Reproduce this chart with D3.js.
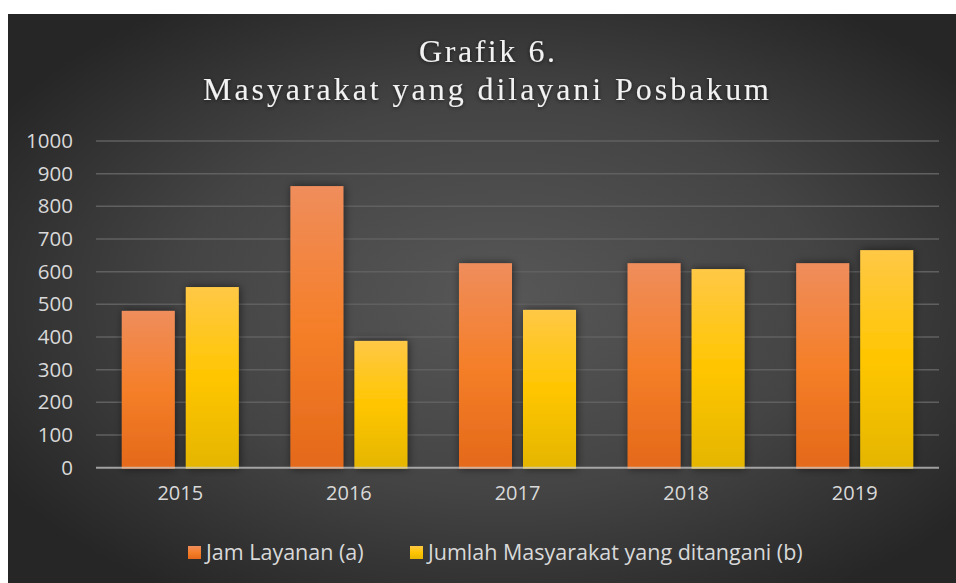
<!DOCTYPE html>
<html>
<head>
<meta charset="utf-8">
<script src="https://cdn.jsdelivr.net/npm/d3@7"></script>
<style>
  html, body { margin: 0; padding: 0; background: #ffffff; }
  svg { display: block; }
</style>
</head>
<body>
<script>
const years = ["2015", "2016", "2017", "2018", "2019"];
const jamLayanan = [480, 862, 626, 626, 626];
const jumlahMasyarakat = [553, 388, 483, 608, 666];
const seriesNames = ["Jam Layanan (a)", "Jumlah Masyarakat yang ditangani (b)"];
const yTicks = [0, 100, 200, 300, 400, 500, 600, 700, 800, 900, 1000];
const titleLines = ["Grafik 6.", "Masyarakat yang dilayani Posbakum"];

const W = 956, H = 583;
const svg = d3.select("body").append("svg").attr("width", W).attr("height", H);
const defs = svg.append("defs");

// background gradient
const bg = defs.append("radialGradient").attr("id", "bgGrad")
  .attr("cx", "52%").attr("cy", "50%").attr("r", "62%");
bg.append("stop").attr("offset", "0%").attr("stop-color", "#575757");
bg.append("stop").attr("offset", "55%").attr("stop-color", "#444444");
bg.append("stop").attr("offset", "100%").attr("stop-color", "#262626");

function barGrad(id, top, mid, bot) {
  const g = defs.append("linearGradient").attr("id", id)
    .attr("x1", 0).attr("y1", 0).attr("x2", 0).attr("y2", 1);
  g.append("stop").attr("offset", "0%").attr("stop-color", top);
  g.append("stop").attr("offset", "50%").attr("stop-color", mid);
  g.append("stop").attr("offset", "100%").attr("stop-color", bot);
}
barGrad("gOrange", "#ef8d5c", "#f57f29", "#e4691a");
barGrad("gYellow", "#ffc846", "#ffc600", "#e4b500");

const sh = defs.append("filter").attr("id", "shadow")
  .attr("x", "-30%").attr("y", "-30%").attr("width", "160%").attr("height", "160%");
sh.append("feDropShadow").attr("dx", 1).attr("dy", 0).attr("stdDeviation", 4)
  .attr("flood-color", "#000").attr("flood-opacity", 0.55);

const tsh = defs.append("filter").attr("id", "tshadow")
  .attr("x", "-10%").attr("y", "-30%").attr("width", "120%").attr("height", "160%");
tsh.append("feDropShadow").attr("dx", 0).attr("dy", 1).attr("stdDeviation", 2)
  .attr("flood-color", "#000").attr("flood-opacity", 0.6);

svg.append("rect").attr("x", 8).attr("y", 14).attr("width", W - 8).attr("height", H - 14)
  .attr("fill", "url(#bgGrad)");

// title
const title = svg.append("g").attr("filter", "url(#tshadow)")
  .attr("font-family", "'Liberation Serif', 'DejaVu Serif', serif")
  .attr("fill", "#f2f2f2").attr("text-anchor", "middle");
title.append("text").attr("x", 487).attr("y", 62).attr("font-size", 32)
  .attr("textLength", 136).attr("lengthAdjust", "spacing").text(titleLines[0]);
title.append("text").attr("x", 486).attr("y", 100).attr("font-size", 32)
  .attr("textLength", 566).attr("lengthAdjust", "spacing").text(titleLines[1]);

// scales
const x0 = d3.scaleBand().domain(years).range([96, 939])
  .paddingInner(0.306).paddingOuter(0.153);
const x1 = d3.scaleBand().domain([0, 1]).range([0, x0.bandwidth()]).paddingInner(0.172);
const y = d3.scaleLinear().domain([0, 1000]).range([467.7, 141]);

// gridlines
svg.append("g").selectAll("line").data(yTicks.filter(d => d > 0)).join("line")
  .attr("x1", 96).attr("x2", 939)
  .attr("y1", d => y(d)).attr("y2", d => y(d))
  .attr("stroke", "#606060").attr("stroke-width", 1.5);

// y axis labels
const yAxis = d3.axisLeft(y).tickValues(yTicks).tickFormat(d3.format("d")).tickSize(0).tickPadding(0);
const yg = svg.append("g").attr("transform", "translate(73,0)").call(yAxis);
yg.select(".domain").remove();
yg.selectAll("text").attr("font-family", "'Open Sans', sans-serif")
  .attr("font-size", 20.5).attr("fill", "#d9d9d9");

// bars
const series = [
  { values: jamLayanan, fill: "url(#gOrange)" },
  { values: jumlahMasyarakat, fill: "url(#gYellow)" }
];
const barsG = svg.append("g");
series.forEach((s, si) => {
  barsG.append("g").selectAll("rect").data(years).join("rect")
    .attr("x", (d) => x0(d) + x1(si))
    .attr("y", (d, i) => y(s.values[i]))
    .attr("width", x1.bandwidth())
    .attr("height", (d, i) => y(0) - y(s.values[i]) + 1)
    .attr("fill", s.fill)
    .attr("filter", "url(#shadow)");
});

// baseline
svg.append("line").attr("x1", 96).attr("x2", 939).attr("y1", y(0)).attr("y2", y(0))
  .attr("stroke", "#d0d0d0").attr("stroke-opacity", 0.7).attr("stroke-width", 2);

// x axis labels
const xAxis = d3.axisBottom(x0).tickSize(0).tickPadding(0);
const xg = svg.append("g").attr("transform", "translate(0,486)").call(xAxis);
xg.select(".domain").remove();
xg.selectAll("text").attr("font-family", "'Open Sans', sans-serif")
  .attr("font-size", 20).attr("fill", "#d9d9d9");

// legend
const legend = svg.append("g").attr("font-family", "'Open Sans', sans-serif")
  .attr("font-size", 21.5).attr("fill", "#d9d9d9");
const legX = [188, 410];
const legFills = ["url(#gOrange)", "url(#gYellow)"];
seriesNames.forEach((n, i) => {
  legend.append("rect").attr("x", legX[i]).attr("y", 546).attr("width", 13).attr("height", 13)
    .attr("fill", legFills[i]);
  legend.append("text").attr("x", legX[i] + 18).attr("y", 560).text(n);
});
</script>
</body>
</html>
